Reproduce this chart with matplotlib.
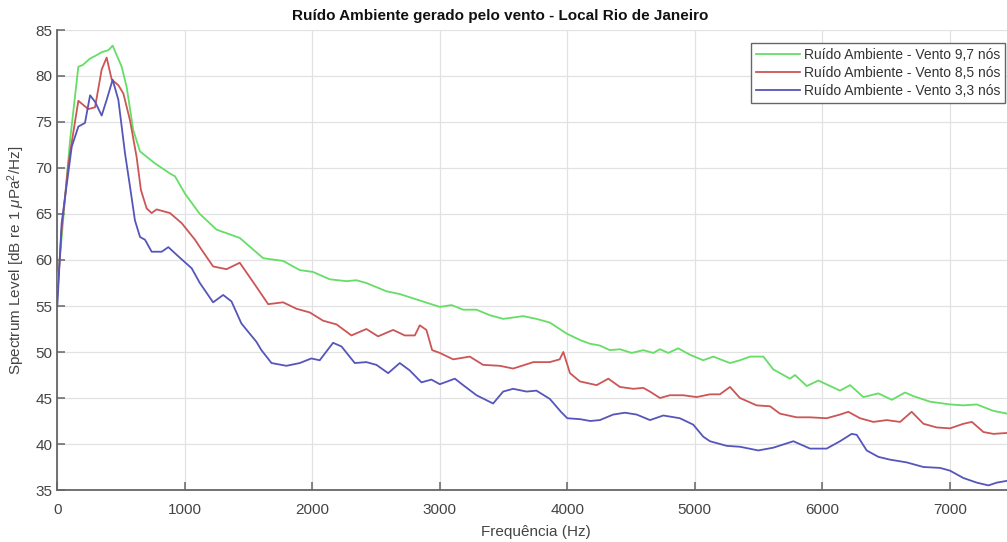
import numpy as np
import matplotlib
matplotlib.use('Agg')
import matplotlib.pyplot as plt

# ---------------------------------------------------------------------------
# Dados (frequencia em Hz, nivel em dB re 1 uPa^2/Hz)

freq_97 = [0, 50, 100, 165, 200, 257, 300, 350, 400, 434, 505, 544, 596, 649, 766, 884, 923, 1002,
           1118, 1249, 1431, 1614, 1771, 1902, 2006, 2137, 2268, 2346, 2424, 2581, 2686, 2843, 3000,
           3092, 3183, 3288, 3392, 3497, 3654, 3758, 3863, 3995, 4100, 4178, 4256, 4334, 4413, 4505,
           4596, 4674, 4727, 4792, 4870, 4962, 5066, 5145, 5276, 5354, 5433, 5538, 5616, 5747, 5786,
           5878, 5969, 6139, 6218, 6322, 6440, 6545, 6649, 6715, 6845, 7002, 7107, 7212, 7342, 7450]
nivel_97 = [57, 65, 73, 81.0, 81.2, 81.9, 82.2, 82.6, 82.8, 83.3, 81.0, 78.8, 74.1, 71.8, 70.5, 69.4, 69.1, 67.2,
            65.0, 63.3, 62.4, 60.2, 59.9, 58.9, 58.7, 57.9, 57.7, 57.8, 57.5, 56.6, 56.3, 55.6, 54.9,
            55.1, 54.6, 54.6, 54.0, 53.6, 53.9, 53.6, 53.2, 52.0, 51.3, 50.9, 50.7, 50.2, 50.3, 49.9,
            50.2, 49.9, 50.3, 49.9, 50.4, 49.7, 49.1, 49.5, 48.8, 49.1, 49.5, 49.5, 48.1, 47.1, 47.5,
            46.3, 46.9, 45.8, 46.4, 45.1, 45.5, 44.8, 45.6, 45.2, 44.6, 44.3, 44.2, 44.3, 43.6, 43.3]

freq_85 = [0, 34, 87, 165, 243, 296, 348, 387, 427, 479, 518, 570, 622, 656, 701, 740, 779, 884, 976, 1080,
           1118, 1222, 1327, 1431, 1536, 1654, 1771, 1876, 1980, 2085, 2190, 2307, 2424, 2516, 2634, 2725,
           2804, 2843, 2895, 2940, 3000, 3105, 3235, 3340, 3471, 3575, 3734, 3863, 3940, 3969, 4021, 4099,
           4230, 4322, 4413, 4517, 4596, 4648, 4727, 4805, 4909, 5014, 5119, 5197, 5276, 5354, 5485, 5590,
           5668, 5799, 5904, 6034, 6139, 6204, 6296, 6401, 6505, 6610, 6701, 6793, 6897, 7002, 7107, 7173,
           7264, 7342, 7450]
nivel_85 = [56, 63.3, 70.5, 77.3, 76.4, 76.6, 80.7, 82.0, 79.6, 79.0, 78.1, 75.2, 71.2, 67.6, 65.6, 65.1, 65.5, 65.1, 64.0, 62.2,
            61.4, 59.3, 59.0, 59.7, 57.6, 55.2, 55.4, 54.7, 54.3, 53.4, 53.0, 51.8, 52.5, 51.7, 52.4, 51.8,
            51.8, 52.9, 52.4, 50.2, 49.9, 49.2, 49.5, 48.6, 48.5, 48.2, 48.9, 48.9, 49.2, 50.0, 47.7, 46.8,
            46.4, 47.1, 46.2, 46.0, 46.1, 45.7, 45.0, 45.3, 45.3, 45.1, 45.4, 45.4, 46.2, 45.0, 44.2, 44.1,
            43.3, 42.9, 42.9, 42.8, 43.2, 43.5, 42.8, 42.4, 42.6, 42.4, 43.5, 42.2, 41.8, 41.7, 42.2, 42.4,
            41.3, 41.1, 41.2]

freq_33 = [0, 34, 113, 165, 217, 257, 296, 348, 387, 434, 479, 531, 570, 609, 649, 688, 740, 819, 871, 949,
           1054, 1118, 1222, 1301, 1366, 1444, 1562, 1601, 1680, 1797, 1902, 1993, 2058, 2163, 2229, 2333,
           2424, 2503, 2595, 2686, 2764, 2856, 2934, 3000, 3118, 3183, 3288, 3418, 3497, 3575, 3680, 3758,
           3863, 3950, 4000, 4100, 4180, 4256, 4360, 4452, 4544, 4649, 4753, 4883, 4988, 5066, 5119, 5250,
           5354, 5498, 5616, 5773, 5904, 6034, 6139, 6230, 6270, 6348, 6440, 6531, 6662, 6793, 6924, 7002,
           7107, 7212, 7303, 7368, 7450]
nivel_33 = [55, 64.0, 72.3, 74.5, 74.9, 77.9, 77.2, 75.7, 77.4, 79.6, 77.4, 71.6, 68.0, 64.3, 62.5, 62.2, 60.9, 60.9, 61.4, 60.4,
            59.1, 57.5, 55.4, 56.2, 55.5, 53.1, 51.1, 50.2, 48.8, 48.5, 48.8, 49.3, 49.1, 51.0, 50.6, 48.8,
            48.9, 48.6, 47.7, 48.8, 48.0, 46.7, 47.0, 46.5, 47.1, 46.4, 45.3, 44.4, 45.7, 46.0, 45.7, 45.8,
            44.9, 43.5, 42.8, 42.7, 42.5, 42.6, 43.2, 43.4, 43.2, 42.6, 43.1, 42.8, 42.1, 40.8, 40.3, 39.8,
            39.7, 39.3, 39.6, 40.3, 39.5, 39.5, 40.3, 41.1, 41.0, 39.3, 38.6, 38.3, 38.0, 37.5, 37.4, 37.1,
            36.3, 35.8, 35.5, 35.8, 36.0]

rotulos = ['Ruído Ambiente - Vento 9,7 nós', 'Ruído Ambiente - Vento 8,5 nós', 'Ruído Ambiente - Vento 3,3 nós']
cores = ['#66dd66', '#cc5555', '#5555bb']

# ---------------------------------------------------------------------------

plt.rcParams['font.family'] = ['Liberation Sans', 'DejaVu Sans']
plt.rcParams['mathtext.fontset'] = 'custom'
plt.rcParams['mathtext.rm'] = 'Liberation Sans'
plt.rcParams['mathtext.it'] = 'Liberation Sans:italic'

fig = plt.figure(figsize=(10.07, 5.42), dpi=100)
W, H = 1007.0, 542.0
x0, x1 = 57.3, 57.3 + 7500 * 0.1275
y0, y1 = 490.0, 30.0
ax = fig.add_axes([x0 / W, 1 - y0 / H, (x1 - x0) / W, (y0 - y1) / H])

for f, v, lab, c in zip([freq_97, freq_85, freq_33], [nivel_97, nivel_85, nivel_33], rotulos, cores):
    ax.plot(f, v, color=c, lw=1.3, label=lab, zorder=5)

ax.set_xlim(0, 7500)
ax.set_ylim(35, 85)
ax.set_xticks(np.arange(0, 7001, 1000))
ax.set_yticks(np.arange(35, 86, 5))
ax.grid(True, color='#e2e2e2', lw=0.9, zorder=0)

for s in ['top', 'right']:
    ax.spines[s].set_visible(False)
for s in ['left', 'bottom']:
    ax.spines[s].set_color('#666666')
    ax.spines[s].set_linewidth(1.3)

ax.tick_params(direction='in', length=6, width=1.1, color='#666666', labelcolor='#444444', labelsize=11)
ax.tick_params(axis='x', pad=9)

ax.set_xlabel('Frequência (Hz)', fontsize=11, color='#444444', labelpad=6)
ax.set_ylabel(r'Spectrum Level [dB re 1 $\mu$Pa$^2$/Hz]', fontsize=11, color='#444444', labelpad=6)
fig.text(500 / W, 1 - 16 / H, 'Ruído Ambiente gerado pelo vento - Local Rio de Janeiro', fontsize=11,
         fontweight='bold', color='#111111', ha='center', va='center')

leg = ax.legend(loc='upper right', bbox_to_anchor=(1005 / W, 1 - 43 / H), bbox_transform=fig.transFigure,
                borderaxespad=0, fontsize=10, handlelength=3.2, handletextpad=0.25, labelspacing=0.3,
                fancybox=False, framealpha=1, edgecolor='#666666', borderpad=0.35)
leg.get_frame().set_linewidth(1.0)
for t in leg.get_texts():
    t.set_color('#333333')

fig.savefig('out.png', dpi=100)
